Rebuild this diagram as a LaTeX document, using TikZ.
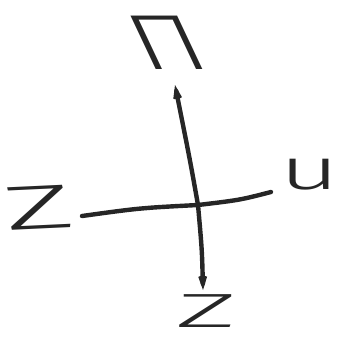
\documentclass[tikz,border=0pt]{standalone}
\usepackage{fontspec}
\setsansfont{Fira Sans}[UprightFont=* Light]
\usetikzlibrary{arrows.meta}
\definecolor{ink}{HTML}{262626}
\begin{document}
\begin{tikzpicture}[x=1pt,y=-1pt,
  stroke/.style={draw=ink,line width=4.4pt,line cap=round},
  lbl/.style={text=ink,inner sep=0pt,font=\sffamily},
  tipup/.style={-{Straight Barb[length=9pt,width=6pt,line width=3pt]}}]
\useasboundingbox (0,0) rectangle (344,338);
% axis end points
\coordinate (top) at (175,85);
\coordinate (bot) at (203,290);
\coordinate (lft) at (82,216);
\coordinate (rgt) at (271,192);
\coordinate (mid) at (198,205);
% axes
\draw[stroke,tipup] (mid) .. controls (190,160) .. (top);
\draw[stroke,tipup] (mid) .. controls (202,250) .. (bot);
\draw[stroke] (lft) .. controls (140,208) .. (mid) .. controls (240,200) .. (rgt);
% labels
\node[lbl,xscale=1.35,xslant=-0.35] (n) at (167,43) {\fontsize{78}{78}\selectfont Π};
\node[lbl,xscale=2.25,rotate=6] (w) at (38,208) {\fontsize{62}{62}\selectfont Z};
\node[lbl,xscale=1.8] (e) at (310,175) {\fontsize{58}{58}\selectfont u};
\node[lbl,xscale=2.5] (s) at (206,311) {\fontsize{48}{48}\selectfont Z};
\end{tikzpicture}
\end{document}
